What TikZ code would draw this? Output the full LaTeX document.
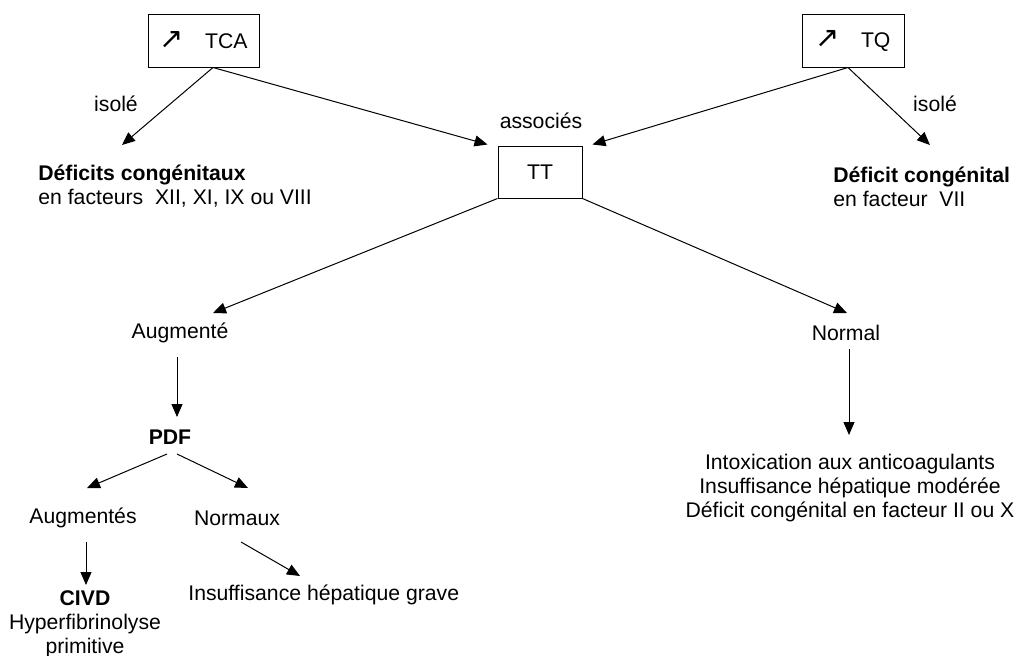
\documentclass[tikz,border=0pt]{standalone}
\usepackage{fontspec}
\setmainfont{Liberation Sans}
\newfontfamily\symfont{DejaVu Sans}
\usetikzlibrary{arrows.meta}

\tikzset{
  box/.style={draw, line width=0.5pt, inner sep=0pt, minimum height=26.5pt},
  txt/.style={inner sep=0pt},
  arr/.style={line width=0.5pt, -{Triangle[length=6.5pt,width=5.5pt]}},
}
\newcommand{\uparr}{{\symfont\fontsize{14.5}{14.5}\selectfont ↗}}

\begin{document}
\begin{tikzpicture}[x=0.5pt, y=-0.5pt, font=\fontsize{10.6}{12}\selectfont]
\useasboundingbox (0,0) rectangle (1019,655);

% tests
\node[box, minimum width=55.5pt] (tca) at (203.5,40.5) {\uparr\quad TCA};
\node[box, minimum width=51pt] (tq) at (853,40.5) {\uparr\quad TQ};
\node[box, minimum width=42pt, minimum height=26pt] (tt) at (540,172) {TT};

% labels
\node[txt] (isoleA) at (116,104) {isolé};
\node[txt] (isoleB) at (935,104) {isolé};
\node[txt] (assoc) at (541,121) {associés};

% results
\node[txt, anchor=west, align=left] (defA) at (38,186.5)
  {\textbf{Déficits congénitaux}\\en facteurs\ \ XII, XI, IX ou VIII};
\node[txt, anchor=west, align=left] (defB) at (833,186.5)
  {\textbf{Déficit congénital}\\en facteur\ \ VII};
\node[txt] (augm) at (180,333) {Augmenté};
\node[txt] (normal) at (846,333) {Normal};
\node[txt] (pdf) at (170,437) {\textbf{PDF}};
\node[txt] (augs) at (83,518) {Augmentés};
\node[txt] (normx) at (237,518) {Normaux};
\node[txt, align=center] (civd) at (85,624)
  {\textbf{CIVD}\\Hyperfibrinolyse\\primitive};
\node[txt, anchor=west] (ihg) at (188,595) {Insuffisance hépatique grave};
\node[txt, align=center] (nres) at (850,488)
  {Intoxication aux anticoagulants\\Insuffisance hépatique modérée\\Déficit congénital en facteur II ou X};

% arrows
\draw[arr] ([shift={(9.5,0)}]tca.south) -- ([shift={(84,-41.5)}]defA.west);
\draw[arr] ([shift={(9.5,0)}]tca.south) -- ([shift={(-10,-1)}]tt.north west);
\draw[arr] ([shift={(-5,0)}]tq.south) -- ([shift={(10,-1)}]tt.north east);
\draw[arr] ([shift={(-5,0)}]tq.south) -- ([shift={(97,-41.5)}]defB.west);
\draw[arr] (tt.south west) -- ([shift={(33,-20)}]augm.center);
\draw[arr] (tt.south east) -- ([shift={(1,-20)}]normal.center);
\draw[arr] ([shift={(-3,24)}]augm.center) -- ([shift={(7,-20)}]pdf.center);
\draw[arr] ([shift={(-3,17)}]pdf.center) -- ([shift={(4,-30)}]augs.center);
\draw[arr] ([shift={(7,17)}]pdf.center) -- ([shift={(11,-30)}]normx.center);
\draw[arr] ([shift={(3,24)}]augs.center) -- ([shift={(1,-39)}]civd.center);
\draw[arr] ([shift={(4,24)}]normx.center) -- ([shift={(112,-19)}]ihg.west);
\draw[arr] ([shift={(3,16)}]normal.center) -- ([shift={(-1,-53)}]nres.center);

\end{tikzpicture}
\end{document}
